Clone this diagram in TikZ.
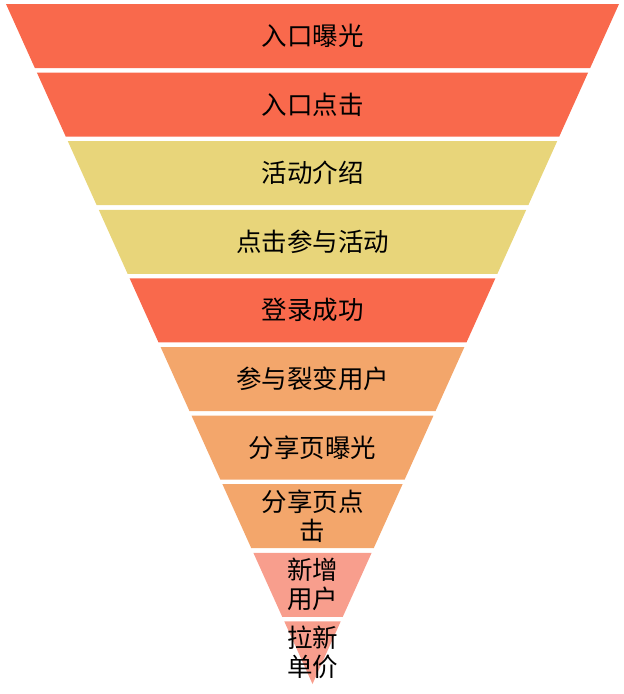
\documentclass[tikz,border=0pt]{standalone}
\usepackage{fontspec}
\newfontfamily\cjkfont{Noto Sans CJK SC}
\usepackage{tikz}
\usetikzlibrary{calc}

\definecolor{funnelred}{HTML}{F9694C}
\definecolor{funnelyellow}{HTML}{E8D57A}
\definecolor{funnelorange}{HTML}{F3A66B}
\definecolor{funnelpink}{HTML}{F89E8D}

\tikzset{
    layertext/.style = {align = center, inner sep = 0pt, font = \cjkfont\fontsize{25.5}{29}\selectfont}
}

\begin{document}
\begin{tikzpicture}[x = 1pt, y = -1pt]
    \useasboundingbox (0,0) rectangle (624,694);

    % Draw the funnel layers:
    \foreach \i/\col/\txt in {0/funnelred/入口曝光, 1/funnelred/入口点击,
            2/funnelyellow/活动介绍, 3/funnelyellow/点击参与活动,
            4/funnelred/登录成功, 5/funnelorange/参与裂变用户,
            6/funnelorange/分享页曝光, 7/funnelorange/{分享页点\\击},
            8/funnelpink/{新增\\用户}, 9/funnelpink/{拉新\\单价}}
    {
        \pgfmathsetmacro\ytop{4+\i*68.6}
        \pgfmathsetmacro\ybot{min(\ytop+64,684)}
        \pgfmathsetmacro\wtop{0.45074*(684-\ytop)}
        \pgfmathsetmacro\wbot{0.45074*(684-\ybot)}
        \fill [\col] (312.5-\wtop,\ytop) -- (312.5+\wtop,\ytop)
            -- (312.5+\wbot,\ybot) -- (312.5-\wbot,\ybot) -- cycle;
        \node [layertext] (layer\i) at (312.5,{(\ytop+\ybot)/2}) {\txt};
    }
\end{tikzpicture}
\end{document}
